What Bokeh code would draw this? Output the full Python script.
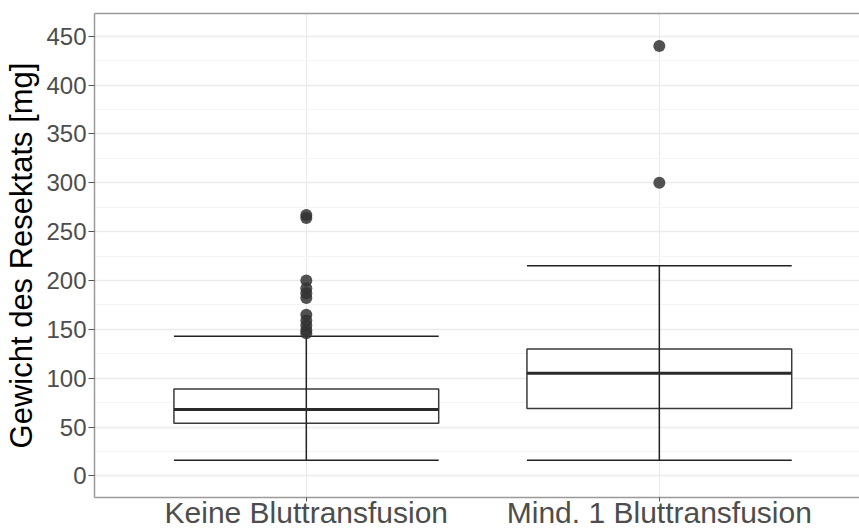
from bokeh.plotting import figure
from bokeh.models import Range1d, FixedTicker, LinearAxis
from bokeh.embed import file_html
from bokeh.resources import INLINE

# ---- data ----
categories = ["Keine Bluttransfusion", "Mind. 1 Bluttransfusion"]
lower_whisker = [16, 16]
q1 = [54, 69]
median = [68, 105]
q3 = [89, 130]
upper_whisker = [143, 215]
outliers_keine = [267, 264, 200, 192, 187, 182, 165, 159, 154, 149, 146]
outliers_mind = [440, 300]
y_ticks = [0, 50, 100, 150, 200, 250, 300, 350, 400, 450]
y_minor = [25, 75, 125, 175, 225, 275, 325, 375, 425]
y_title = "Gewicht des Resektats [mg]"

FONT = "Liberation Sans"
pos = [i + 1 for i in range(len(categories))]
half = 0.375

p = figure(width=859, height=531,
           x_range=Range1d(0.4, 2.567), y_range=Range1d(-22.0, 473.2),
           output_backend="svg", toolbar_location=None,
           min_border_left=94, min_border_right=0, min_border_top=13,
           min_border_bottom=0)
p.outline_line_color = None
p.background_fill_color = "white"
p.border_fill_color = "white"

# axes
xa = p.xaxis[0]
xa.ticker = FixedTicker(ticks=pos)
xa.major_label_overrides = {pv: c for pv, c in zip(pos, categories)}
xa.major_label_text_font = FONT
xa.major_label_text_font_size = "30px"
xa.major_label_text_color = "#4D4D4D"
xa.major_tick_out = 4
xa.major_tick_in = 0
xa.major_tick_line_color = "#555555"
xa.minor_tick_line_color = None
xa.major_label_standoff = -6
xa.axis_line_color = "#9a9a9a"
xa.axis_line_width = 1.5

ya = p.yaxis[0]
ya.ticker = FixedTicker(ticks=y_ticks, minor_ticks=y_minor)
ya.axis_label = y_title
ya.axis_label_text_font = FONT
ya.axis_label_text_font_size = "31px"
ya.axis_label_text_font_style = "normal"
ya.axis_label_text_color = "black"
ya.axis_label_standoff = 4
ya.major_label_text_font = FONT
ya.major_label_text_font_size = "24px"
ya.major_label_text_color = "#4D4D4D"
ya.major_tick_out = 6
ya.major_tick_in = 0
ya.major_tick_line_color = "#555555"
ya.minor_tick_line_color = None
ya.major_label_standoff = 2
ya.axis_line_color = "#9a9a9a"
ya.axis_line_width = 1.5

top = LinearAxis(ticker=FixedTicker(ticks=[]), axis_line_color="#9a9a9a",
                 axis_line_width=1.5, major_tick_line_color=None,
                 minor_tick_line_color=None, major_label_standoff=0,
                 major_tick_out=0)
p.add_layout(top, "above")

# grids
p.xgrid.grid_line_color = "#EBEBEB"
p.xgrid.grid_line_width = 1.3
p.ygrid.grid_line_color = "#EBEBEB"
p.ygrid.grid_line_width = 1.3
p.ygrid.minor_grid_line_color = "#F4F4F4"
p.ygrid.minor_grid_line_width = 1.0

# boxes
left = [x - half for x in pos]
right = [x + half for x in pos]
p.quad(left=left, right=right, bottom=q1, top=q3,
       fill_color="white", line_color="#3a3a3a", line_width=1.5)

# error bars (whiskers)
p.segment(x0=pos, x1=pos, y0=lower_whisker, y1=upper_whisker,
          line_color="#222222", line_width=1.5)
p.segment(x0=left, x1=right, y0=upper_whisker, y1=upper_whisker,
          line_color="#222222", line_width=1.5)
p.segment(x0=left, x1=right, y0=lower_whisker, y1=lower_whisker,
          line_color="#222222", line_width=1.5)

# medians
p.segment(x0=left, x1=right, y0=median, y1=median,
          line_color="#2a2a2a", line_width=3)

# outliers
p.scatter(x=[pos[0]] * len(outliers_keine), y=outliers_keine, size=12,
          fill_color="#333333", fill_alpha=0.85, line_color=None)
p.scatter(x=[pos[1]] * len(outliers_mind), y=outliers_mind, size=12,
          fill_color="#333333", fill_alpha=0.85, line_color=None)

open("out.html", "w").write(file_html(p, INLINE))
